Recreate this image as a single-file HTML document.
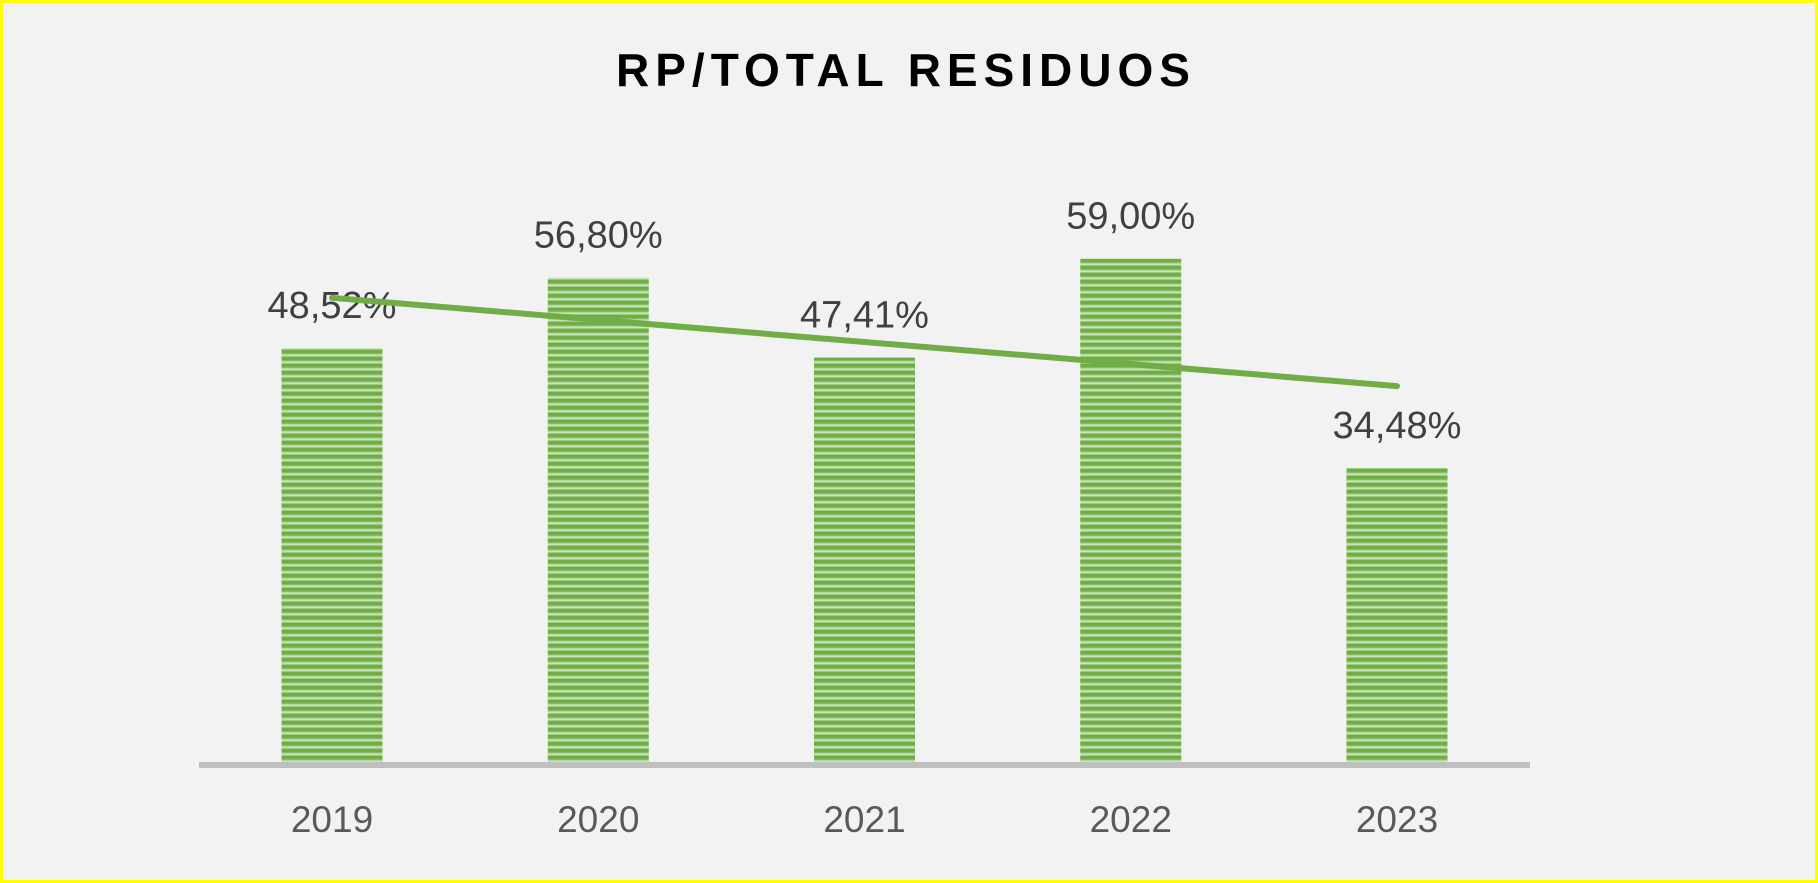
<!DOCTYPE html>
<html><head><meta charset="utf-8"><style>
html,body{margin:0;padding:0;}
body{width:1818px;height:883px;overflow:hidden;background:#f2f2f2;font-family:"Liberation Sans",Calibri,sans-serif;}
#frame{position:absolute;left:0;top:0;width:1812px;height:877px;border:3px solid #ffff00;background:#f2f2f2;}
</style></head><body>
<div id="frame"></div>
<svg id="chart" width="1818" height="883" style="position:absolute;left:0;top:0">
<defs>
<pattern id="stripes" width="8" height="7" patternUnits="userSpaceOnUse">
<rect width="8" height="7" fill="#c9e2b8"/>
<rect y="0" width="8" height="3.5" fill="#70ad47"/>
<rect y="3.5" width="8" height="1" fill="#9ccb7f"/>
<rect y="6" width="8" height="1" fill="#9ccb7f"/>
</pattern>
</defs>
<text x="906" y="86" text-anchor="middle" font-size="46" font-weight="bold" letter-spacing="6" fill="#000">RP/TOTAL RESIDUOS</text>
</svg>
<script>
const categories = ["2019","2020","2021","2022","2023"];
const values = [48.52, 56.80, 47.41, 59.00, 34.48];
const valueLabels = ["48,52%","56,80%","47,41%","59,00%","34,48%"];
const svg = document.getElementById('chart');
const NS = 'http://www.w3.org/2000/svg';
const baseY = 762, pxPerUnit = 8.53, x0 = 332, step = 266.25, barW = 101;
const xPos = i => x0 + i * step;
const yPos = v => baseY - v * pxPerUnit;
function mk(tag, attrs){const e=document.createElementNS(NS,tag);for(const k in attrs)e.setAttribute(k,attrs[k]);svg.appendChild(e);return e;}
values.forEach((v,i)=>{
  const r = mk('rect',{x:xPos(i)-barW/2,y:yPos(v),width:barW,height:baseY-yPos(v),fill:'url(#stripes)'});
  
  
  const t = mk('text',{x:xPos(i),y:yPos(v)-30,'text-anchor':'middle','font-size':38,fill:'#404040'});
  t.textContent = valueLabels[i];
  
  
  const c = mk('text',{x:xPos(i),y:832,'text-anchor':'middle','font-size':37,fill:'#595959'});
  c.textContent = categories[i];
  
  
});
const axis = mk('line',{x1:199,x2:1530,y1:765,y2:765,stroke:'#bfbfbf','stroke-width':6});


const n = values.length;
const mx = (n-1)/2, my = values.reduce((a,b)=>a+b,0)/n;
let num=0, den=0;
values.forEach((v,i)=>{num+=(i-mx)*(v-my);den+=(i-mx)*(i-mx);});
const slope = num/den, icpt = my - slope*mx;
const trend = mk('line',{x1:xPos(0),y1:yPos(icpt),x2:xPos(n-1),y2:yPos(icpt+slope*(n-1)),stroke:'#70ad47','stroke-width':6,'stroke-linecap':'round'});


</script>
</body></html>
